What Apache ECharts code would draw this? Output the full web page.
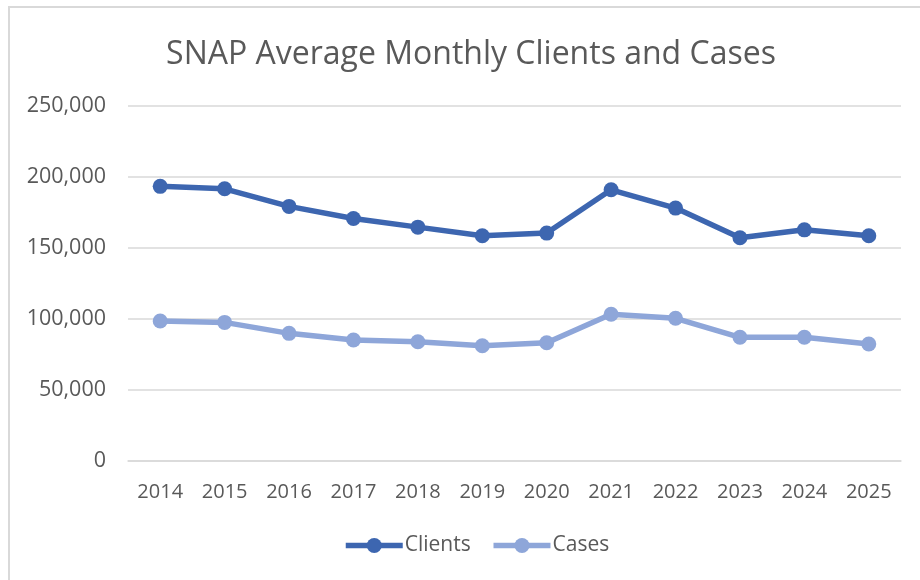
<!DOCTYPE html>
<html>
<head>
<meta charset="utf-8">
<script src="https://cdn.jsdelivr.net/npm/echarts@6/dist/echarts.min.js"></script>
<style>html,body{margin:0;padding:0;background:#fff}#c{width:920px;height:580px}</style>
</head>
<body>
<div id="c"></div>
<script>
const years = ['2014','2015','2016','2017','2018','2019','2020','2021','2022','2023','2024','2025'];
const clients = [193400, 191700, 179300, 170800, 164700, 158600, 160500, 191000, 178100, 157200, 162800, 158600];
const cases = [98600, 97600, 89900, 85200, 84000, 81200, 83300, 103300, 100500, 87100, 87100, 82400];
const yTicks = { min: 0, max: 250000, interval: 50000 };

const FONT = 'Open Sans';
const TXT = '#595959';
const chart = echarts.init(document.getElementById('c'), null, { renderer: 'canvas' });
chart.setOption({
  backgroundColor: '#fff',
  animation: false,
  textStyle: { fontFamily: FONT },
  graphic: [{
    type: 'rect', silent: true,
    shape: { x: 9, y: 7, width: 1000, height: 1000 },
    style: { fill: 'none', stroke: '#d9d9d9', lineWidth: 2 }
  }],
  title: {
    text: 'SNAP Average Monthly Clients and Cases',
    left: 471, textAlign: 'center', top: 39, padding: 0,
    textStyle: { fontFamily: FONT, fontSize: 32, fontWeight: 'normal', color: TXT }
  },
  legend: {
    data: ['Clients', 'Cases'],
    left: 343, top: 535, padding: 0,
    itemWidth: 57, itemHeight: 19, itemGap: 20,
    lineStyle: { width: 5.5 },
    textStyle: { fontFamily: FONT, fontSize: 21, color: TXT, padding: [0, 0, 0, -3] }
  },
  grid: { left: 128, right: 19, top: 106, bottom: 119, containLabel: false },
  xAxis: {
    type: 'category', data: years, boundaryGap: true,
    axisLine: { lineStyle: { color: '#d9d9d9', width: 1.5 } },
    axisTick: { show: false },
    axisLabel: { color: TXT, fontFamily: FONT, fontSize: 20, margin: 21 }
  },
  yAxis: {
    type: 'value', min: yTicks.min, max: yTicks.max, interval: yTicks.interval,
    axisLine: { show: false }, axisTick: { show: false },
    splitLine: { lineStyle: { color: '#d9d9d9', width: 1.5 } },
    axisLabel: {
      color: TXT, fontFamily: FONT, fontSize: 21.5, margin: 22,
      formatter: v => v.toLocaleString('en-US')
    }
  },
  series: [
    {
      name: 'Clients', type: 'line', data: clients,
      symbol: 'circle', symbolSize: 15,
      lineStyle: { width: 5.5, color: '#3D66B0' },
      itemStyle: { color: '#3D66B0' }
    },
    {
      name: 'Cases', type: 'line', data: cases,
      symbol: 'circle', symbolSize: 15,
      lineStyle: { width: 5.5, color: '#8EA6D9' },
      itemStyle: { color: '#8EA6D9' }
    }
  ]
});
</script>
</body>
</html>
